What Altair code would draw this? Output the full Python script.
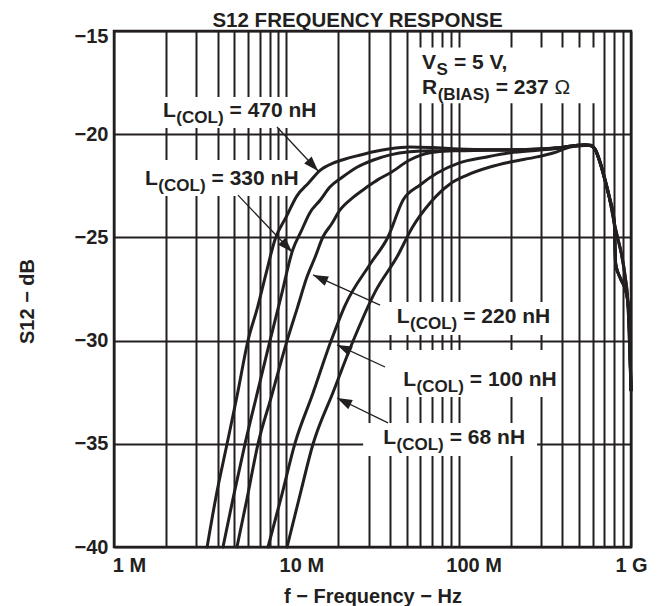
import math
import altair as alt
import pandas as pd

INK = "#231f20"
FONT = "Liberation Sans"

# ---------------- data: frequency in MHz, S12 in dB ----------------
f_470 = [3.47, 3.9, 4.53, 5.2, 5.99, 6.8, 7.6, 8.6, 10.0, 11.5, 13.5, 15.7, 18.7, 22.0, 25.7,
         32, 40, 52, 70, 100, 150, 200, 300, 390, 470, 540, 580, 620, 660, 700, 750, 800,
         815, 870, 940, 970, 1000]
db_470 = [-40, -37.6, -35, -32.6, -30, -28.4, -26.8, -25.1, -24.0, -23.0, -22.35, -21.75, -21.4,
          -21.2, -21.05, -20.85, -20.7, -20.62, -20.65, -20.72, -20.75, -20.75, -20.72, -20.65,
          -20.55, -20.5, -20.52, -20.72, -21.3, -22.05, -23.05, -24.25, -26.3, -27.0, -27.7,
          -28.6, -32.4]

f_330 = [4.29, 4.95, 5.76, 6.8, 8.04, 9.3, 10.9, 12.2, 13.7, 15.7, 17.9, 21, 25.7, 32, 40,
         52, 70, 100, 150, 200, 300, 390, 470, 540, 580, 620, 660, 700, 750, 800, 835, 880,
         925, 960, 1000]
db_330 = [-40, -37.5, -35, -32.5, -30, -27.9, -25.6, -24.7, -23.8, -23.2, -22.56, -22.1, -21.6,
          -21.25, -21.0, -20.85, -20.8, -20.8, -20.78, -20.78, -20.72, -20.65, -20.57, -20.53,
          -20.55, -20.75, -21.35, -22.1, -23.1, -24.3, -25.0, -25.8, -26.9, -28.2, -32.4]

f_220 = [5.17, 5.9, 6.85, 8.2, 10.1, 11.6, 13.2, 14.7, 16.3, 18.3, 20.5, 24.5, 29.4, 34, 40,
         52, 68, 100, 150, 200, 300, 390, 470, 540, 580, 620, 660, 700, 750, 800, 815, 870,
         940, 970, 1000]
db_220 = [-40, -37.7, -35, -32.7, -30, -28.4, -26.9, -25.95, -24.98, -24.35, -23.67, -23.05,
          -22.56, -22.2, -21.88, -21.25, -20.9, -20.78, -20.75, -20.75, -20.72, -20.65, -20.58,
          -20.55, -20.55, -20.75, -21.35, -22.1, -23.1, -24.3, -26.3, -27.0, -27.7, -28.6, -32.4]

f_100 = [7.83, 9.4, 11.2, 14.2, 18.2, 21.9, 30.6, 38.9, 47.6, 59.7, 75, 100, 146, 199, 297,
         388, 443, 540, 580, 620, 660, 700, 750, 800, 835, 880, 925, 960, 1000]
db_100 = [-40, -37.5, -35, -32.6, -30, -28.3, -26.3, -24.98, -23.19, -22.46, -21.88, -21.4,
          -21.1, -20.9, -20.77, -20.67, -20.57, -20.52, -20.55, -20.75, -21.35, -22.1, -23.1,
          -24.3, -25.0, -25.8, -26.9, -28.2, -32.4]

f_68 = [10.1, 12.0, 14.3, 18.7, 24.4, 32.7, 44.5, 53.6, 68.2, 89.1, 112, 152, 199, 285, 353,
        443, 540, 580, 620, 660, 700, 750, 800, 815, 870, 940, 970, 1000]
db_68 = [-40, -37.48, -35, -32.49, -30.02, -27.65, -25.85, -24.54, -23.33, -22.41, -21.98,
         -21.59, -21.35, -21.1, -20.91, -20.62, -20.53, -20.55, -20.75, -21.35, -22.1, -23.1,
         -24.3, -26.3, -27.0, -27.7, -28.6, -32.4]

series = [("470 nH", f_470, db_470), ("330 nH", f_330, db_330), ("220 nH", f_220, db_220),
          ("100 nH", f_100, db_100), ("68 nH", f_68, db_68)]

grid_f = [m * d for d in (1, 10, 100) for m in range(1, 10)] + [1000]
x_tick_text = {1: "1 M", 10: "10 M", 100: "100 M", 1000: "1 G"}
y_ticks = [-40, -35, -30, -25, -20, -15]
chart_title = "S12 FREQUENCY RESPONSE"

# annotations (anchors in data units: MHz, dB)
labels = [
    (1.925, -19.18, [("L", "main"), ("(COL)", "sub"), ("= 470 nH", "main")]),
    (1.514, -22.46, [("L", "main"), ("(COL)", "sub"), ("= 330 nH", "main")]),
    (43.7, -29.13, [("L", "main"), ("(COL)", "sub"), ("= 220 nH", "main")]),
    (47.7, -32.2, [("L", "main"), ("(COL)", "sub"), ("= 100 nH", "main")]),
    (36.5, -35.0, [("L", "main"), ("(COL)", "sub"), ("= 68 nH", "main")]),
    (61.3, -16.85, [("V", "main"), ("S", "sub"), ("= 5 V,", "main")]),
    (61.3, -18.05, [("R", "main"), ("(BIAS)", "sub"), ("= 237", "main"), ("Ω", "sym")]),
]
boxes = [  # white label backgrounds (f1, f2, db1, db2)
    (1.73, 16.8, -18.2, -19.7),
    (1.38, 12.2, -21.25, -22.99),
    (34.0, 380, -28.13, -29.73),
    (37.3, 380, -30.46, -32.73),
    (27.9, 285, -33.99, -35.59),
    (55.8, 643, -15.8, -18.5),
]
arrows = [  # (start f, start dB, tip f, tip dB)
    (8.83, -19.65, 15.3, -21.78),
    (5.24, -22.95, 10.8, -25.71),
    (35.0, -28.28, 14.3, -26.82),
    (37.4, -31.28, 19.7, -30.21),
    (38.9, -33.99, 19.7, -32.78),
]

# ---------------- build tables ----------------
W_PLOT, H_PLOT = 517, 516
PX_DEC = W_PLOT / 3.0
PX_DB = H_PLOT / 25.0

rows = []
for name, fs, ds in series:
    for i, (f, d) in enumerate(zip(fs, ds)):
        rows.append({"series": name, "f": f, "db": d, "o": i})
curves = pd.DataFrame(rows)

EM = {'L': .611, '(': .333, ')': .333, 'C': .722, 'O': .778, ' ': .278, '=': .584,
      'n': .611, 'H': .722, 'V': .667, 'S': .667, ',': .278, 'R': .722, 'B': .722,
      'I': .278, 'A': .722, 'Ω': .768}
SIZES = {"main": 21, "sub": 17, "sym": 21}


def tw(s, size):
    return sum(EM.get(c, 0.556) for c in s) * size


txt_rows = []
for f0, d0, parts in labels:
    dx = 0.0
    prev = None
    for text, kind in parts:
        if prev == "main" and kind == "sub":
            dx += 0.5
        elif prev == "sub":
            dx += 6.0
        elif prev == "main" and kind == "sym":
            dx += 0.278 * 21
        dy = 6.0 if kind == "sub" else 0.0
        txt_rows.append({"f": f0 * 10 ** (dx / PX_DEC), "db": d0 - dy / PX_DB,
                         "t": text, "size": SIZES[kind],
                         "w": "normal" if kind == "sym" else "bold"})
        dx += tw(text, SIZES[kind])
        prev = kind
texts = pd.DataFrame(txt_rows)

box_df = pd.DataFrame([{"f1": a, "f2": b, "d1": c, "d2": d} for a, b, c, d in boxes])

arr_rows = []
for f1, d1, f2, d2 in arrows:
    vx = (math.log10(f2) - math.log10(f1)) * PX_DEC
    vy = -(d2 - d1) * PX_DB
    ang = math.degrees(math.atan2(vx, -vy)) % 360
    arr_rows.append({"f1": f1, "d1": d1, "f2": f2, "d2": d2, "ang": ang})
arr_df = pd.DataFrame(arr_rows)

# ---------------- chart ----------------
xscale = alt.Scale(type="log", domain=[1, 1000], nice=False)
yscale = alt.Scale(domain=[-40, -15], nice=False, zero=False)

label_expr = " : ".join(f"datum.value == {k} ? '{v}'" for k, v in x_tick_text.items()) + " : ''"

x_axis = alt.Axis(values=grid_f, labelExpr=label_expr, grid=True, gridColor=INK, gridWidth=2,
                  gridOpacity=1, ticks=False, domain=False, labelFont=FONT, labelFontSize=20,
                  labelFontWeight="bold", labelColor=INK, labelPadding=8, labelOverlap=False,
                  labelFlush=False,
                  labelOffset={"condition": {"test": "datum.value >= 1000", "value": 0}, "value": 15},
                  title="f − Frequency − Hz", titleFont=FONT, titleFontSize=20,
                  titleFontWeight="bold", titleColor=INK, titleY=55, titleBaseline="alphabetic")
y_axis = alt.Axis(values=y_ticks, grid=True, gridColor=INK, gridWidth=2, gridOpacity=1,
                  ticks=False, domain=False, labelFont=FONT, labelFontSize=20,
                  labelFontWeight="bold", labelColor=INK, labelPadding=6, labelOverlap=False,
                  labelFlush=False,
                  labelOffset={"condition": {"test": "datum.value == -15", "value": 5}, "value": 0},
                  title="S12 − dB", titleFont=FONT, titleFontSize=20, titleFontWeight="bold",
                  titleColor=INK, titleX=-81, titleY=270, titleBaseline="alphabetic")

base_x = alt.X("f:Q", scale=xscale, axis=x_axis)
base_y = alt.Y("db:Q", scale=yscale, axis=y_axis)

box_layer = alt.Chart(box_df).mark_rect(color="white", opacity=1).encode(
    x=alt.X("f1:Q", scale=xscale, axis=x_axis), x2="f2:Q",
    y=alt.Y("d1:Q", scale=yscale, axis=y_axis), y2="d2:Q")

line_layer = alt.Chart(curves).mark_line(color=INK, strokeWidth=3, interpolate="monotone",
                                         strokeJoin="round", strokeCap="round").encode(
    x=base_x, y=base_y, detail="series:N", order="o:Q")

rule_layer = alt.Chart(arr_df).mark_rule(color=INK, strokeWidth=1.3).encode(
    x=alt.X("f1:Q", scale=xscale), y=alt.Y("d1:Q", scale=yscale), x2="f2:Q", y2="d2:Q")

head_layer = alt.Chart(arr_df).mark_point(shape="M0,0L0.34,1L-0.34,1Z", filled=True, color=INK,
                                          opacity=1, size=900).encode(
    x=alt.X("f2:Q", scale=xscale), y=alt.Y("d2:Q", scale=yscale),
    angle=alt.Angle("ang:Q", scale=None))

bold_text = alt.Chart(texts[texts.w == "bold"]).mark_text(
    align="left", baseline="alphabetic", font=FONT, fontWeight="bold", color=INK).encode(
    x=alt.X("f:Q", scale=xscale), y=alt.Y("db:Q", scale=yscale), text="t:N",
    size=alt.Size("size:Q", scale=None))

sym_text = alt.Chart(texts[texts.w == "normal"]).mark_text(
    align="left", baseline="alphabetic", font=FONT, fontWeight="normal", color=INK).encode(
    x=alt.X("f:Q", scale=xscale), y=alt.Y("db:Q", scale=yscale), text="t:N",
    size=alt.Size("size:Q", scale=None))

title_layer = alt.Chart(pd.DataFrame({"t": [chart_title]})).mark_text(
    align="center", baseline="alphabetic", font=FONT, fontWeight="bold", fontSize=20.5,
    color=INK).encode(text="t:N", x=alt.value(W_PLOT / 2 - 15), y=alt.value(-4))

chart = alt.layer(box_layer, line_layer, rule_layer, head_layer, bold_text, sym_text,
                  title_layer).properties(
    width=W_PLOT, height=H_PLOT,
    padding={"left": 106, "top": 23, "right": 19, "bottom": 59},
    autosize=alt.AutoSizeParams(type="none"),
    background="white",
).configure_view(stroke=INK, strokeWidth=2.5)

chart.save("out.html", embed_options={"renderer": "svg", "actions": False})
